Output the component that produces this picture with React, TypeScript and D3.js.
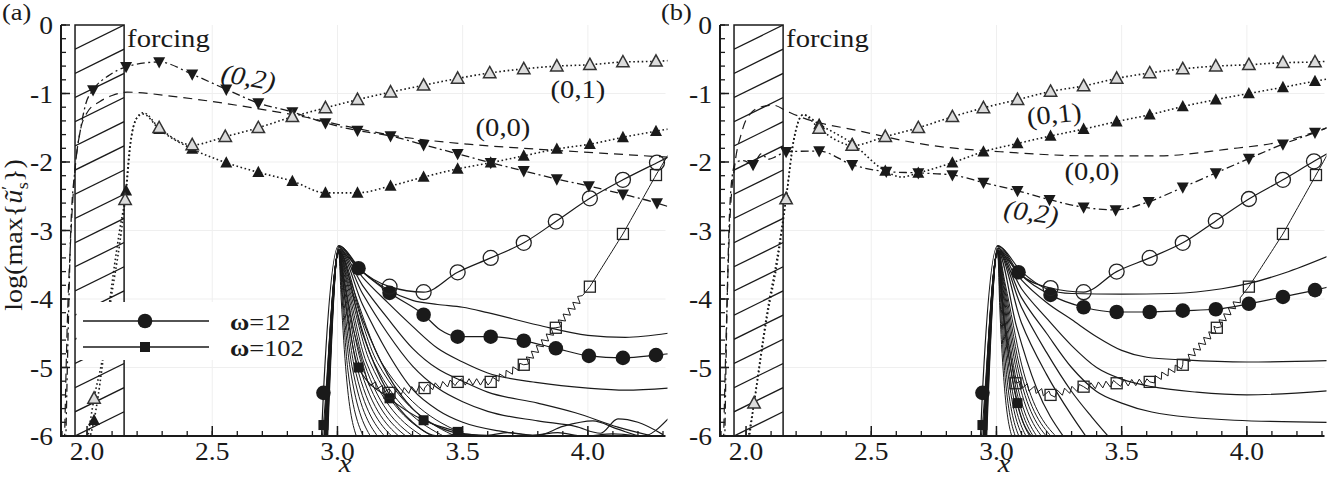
import * as d3 from 'd3';

type Pt = number[]; // [x, y] or [x, y, 1] when the point carries a marker

// ---------- panel (a) ----------
const aMode00: Pt[] = [[1.91,-6.1],[1.92,-4.5],[1.935,-3.1],[1.95,-2.2],[1.97,-1.6],[2.0,-1.28],[2.05,-1.12],[2.1,-1.03],[2.16,-0.98],[2.36,-1.05],[2.68,-1.22],[2.852,-1.33],[3.0,-1.45],[3.252,-1.63],[3.52,-1.74],[3.784,-1.81],[4.052,-1.87],[4.32,-1.93]];
const aMode01: Pt[] = [[2.0,-6.1],[2.028,-5.45,1],[2.06,-4.9],[2.1,-3.9],[2.13,-3.2],[2.152,-2.55,1],[2.17,-1.8],[2.2,-1.35],[2.224,-1.28],[2.288,-1.5,1],[2.42,-1.75,1],[2.552,-1.63,1],[2.684,-1.5,1],[2.82,-1.34,1],[2.952,-1.21,1],[3.08,-1.09,1],[3.212,-0.98,1],[3.344,-0.88,1],[3.48,-0.78,1],[3.608,-0.7,1],[3.744,-0.64,1],[3.876,-0.6,1],[4.008,-0.58,1],[4.14,-0.54,1],[4.272,-0.53,1],[4.32,-0.52]];
const aMode03: Pt[] = [[2.005,-6.1],[2.028,-5.77,1],[2.06,-5.0],[2.09,-4.05],[2.13,-3.0],[2.156,-2.42,1],[2.175,-1.7],[2.2,-1.35],[2.224,-1.3],[2.288,-1.52,1],[2.42,-1.81,1],[2.556,-2.01,1],[2.684,-2.15,1],[2.82,-2.28,1],[2.952,-2.45,1],[3.08,-2.45,1],[3.212,-2.35,1],[3.344,-2.22,1],[3.48,-2.1,1],[3.612,-2.01,1],[3.744,-1.91,1],[3.876,-1.81,1],[4.008,-1.74,1],[4.14,-1.64,1],[4.272,-1.55,1],[4.32,-1.52]];
const aMode02: Pt[] = [[1.915,-6.1],[1.925,-4.4],[1.935,-3.0],[1.952,-2.1],[1.975,-1.5],[1.995,-1.15],[2.024,-0.95,1],[2.09,-0.73],[2.156,-0.61,1],[2.288,-0.54,1],[2.42,-0.72,1],[2.556,-0.94,1],[2.684,-1.14,1],[2.82,-1.27,1],[2.952,-1.43,1],[3.08,-1.54,1],[3.212,-1.62,1],[3.344,-1.75,1],[3.48,-1.88,1],[3.612,-2.01,1],[3.744,-2.13,1],[3.876,-2.25,1],[4.004,-2.35,1],[4.14,-2.47,1],[4.276,-2.6,1],[4.32,-2.65]];

const aW12Lin: Pt[] = [[2.935,-6.1],[2.944,-5.37,1],[3.005,-3.22],[3.084,-3.55,1],[3.208,-3.91,1],[3.344,-4.23,1],[3.41,-4.45],[3.48,-4.55,1],[3.612,-4.55,1],[3.744,-4.61,1],[3.872,-4.72,1],[4.004,-4.83,1],[4.14,-4.86,1],[4.272,-4.82,1],[4.32,-4.8]];
const aW12Nl: Pt[] = [[3.005,-3.22],[3.084,-3.55],[3.208,-3.82,1],[3.344,-3.9,1],[3.48,-3.61,1],[3.612,-3.4,1],[3.744,-3.18,1],[3.872,-2.87,1],[4.008,-2.53,1],[4.14,-2.26,1],[4.276,-2.01,1],[4.32,-1.93]];
const aW102Lin: Pt[] = [[2.938,-6.1],[2.944,-5.84,1],[3.005,-3.3],[3.03,-4.0],[3.084,-5.0,1],[3.208,-5.45,1],[3.344,-5.77,1],[3.48,-5.94,1],[3.56,-6.05]];
const aW102Nl: Pt[] = [[3.005,-3.3],[3.06,-4.4],[3.12,-5.2],[3.208,-5.37,1],[3.348,-5.3,1],[3.48,-5.21,1],[3.612,-5.21,1],[3.744,-4.96,1],[3.872,-4.42,1],[4.008,-3.82,1],[4.14,-3.05,1],[4.272,-2.19,1],[4.32,-1.9]];

const aFan: Pt[][] = [
  [[2.96,-6.1],[3.005,-3.23],[3.1,-3.6],[3.2,-3.86],[3.3,-4.02],[3.4,-4.08],[3.5,-4.12],[3.6,-4.2],[3.8,-4.38],[4.0,-4.53],[4.15,-4.56],[4.32,-4.5]],
  [[2.958,-6.1],[3.005,-3.25],[3.1,-3.68],[3.2,-4.05],[3.3,-4.4],[3.4,-4.72],[3.5,-4.92],[3.6,-5.08],[3.8,-5.22],[4.0,-5.3],[4.15,-5.33],[4.32,-5.3]],
  [[2.956,-6.1],[3.005,-3.27],[3.1,-3.8],[3.2,-4.28],[3.3,-4.72],[3.4,-5.02],[3.5,-5.2],[3.6,-5.36],[3.8,-5.52],[3.95,-5.66],[4.12,-5.87],[4.28,-6.02]],
  [[2.954,-6.1],[3.005,-3.28],[3.1,-3.92],[3.2,-4.5],[3.3,-4.98],[3.4,-5.3],[3.5,-5.5],[3.6,-5.64],[3.8,-5.78],[3.95,-5.86],[4.05,-5.96],[4.12,-5.75],[4.2,-5.8],[4.3,-5.98]],
  [[2.952,-6.1],[3.005,-3.29],[3.1,-4.08],[3.2,-4.78],[3.3,-5.32],[3.4,-5.62],[3.5,-5.8],[3.65,-5.93],[3.8,-5.99],[3.9,-5.86],[4.02,-5.78],[4.12,-5.9],[4.22,-6.0],[4.32,-5.75]],
  [[2.95,-6.1],[3.005,-3.3],[3.1,-4.3],[3.2,-5.1],[3.3,-5.6],[3.4,-5.86],[3.5,-5.97],[3.6,-5.99],[3.68,-5.95],[3.78,-5.99],[3.88,-5.95],[3.98,-6.0],[4.1,-5.97],[4.2,-6.0]],
  [[2.95,-6.1],[3.005,-3.3],[3.1,-4.5],[3.2,-5.35],[3.3,-5.8],[3.4,-6.0],[3.5,-5.97],[3.6,-6.02]],
];
const aBundle: Pt[][] = [
  [[2.945,-6.1],[3.005,-3.32],[3.015,-4.0],[3.035,-5.1],[3.08,-6.05]],
  [[2.946,-6.1],[3.005,-3.32],[3.018,-3.97],[3.042,-5.05],[3.11,-6.05]],
  [[2.947,-6.1],[3.005,-3.31],[3.02,-3.94],[3.05,-5.0],[3.14,-6.05]],
  [[2.948,-6.1],[3.005,-3.31],[3.022,-3.91],[3.058,-4.98],[3.17,-6.05]],
  [[2.949,-6.1],[3.005,-3.31],[3.025,-3.88],[3.066,-4.96],[3.2,-6.05]],
  [[2.95,-6.1],[3.005,-3.3],[3.028,-3.85],[3.075,-4.95],[3.23,-6.05]],
  [[2.951,-6.1],[3.005,-3.3],[3.03,-3.83],[3.085,-4.94],[3.26,-6.05]],
  [[2.952,-6.1],[3.005,-3.3],[3.032,-3.81],[3.095,-4.93],[3.29,-6.05]],
  [[2.953,-6.1],[3.005,-3.3],[3.035,-3.79],[3.105,-4.92],[3.32,-6.05]],
  [[2.954,-6.1],[3.005,-3.29],[3.038,-3.77],[3.115,-4.92],[3.36,-6.05]],
  [[2.955,-6.1],[3.005,-3.29],[3.04,-3.75],[3.13,-4.92],[3.4,-6.05]],
  [[2.956,-6.1],[3.005,-3.29],[3.043,-3.74],[3.145,-4.92],[3.45,-6.05]],
  [[2.957,-6.1],[3.005,-3.29],[3.046,-3.73],[3.16,-4.93],[3.5,-6.05]],
  [[2.958,-6.1],[3.005,-3.28],[3.05,-3.72],[3.18,-4.95],[3.56,-6.05]],
];

// ---------- panel (b) ----------
const bMode00: Pt[] = [[1.91,-6.1],[1.92,-4.6],[1.935,-2.9],[1.956,-2.02],[1.98,-1.6],[2.004,-1.36],[2.056,-1.2],[2.108,-1.17],[2.164,-1.26],[2.216,-1.34],[2.456,-1.55],[2.724,-1.75],[3.016,-1.85],[3.376,-1.91],[3.644,-1.91],[3.908,-1.82],[4.176,-1.67],[4.32,-1.5]];
const bMode01: Pt[] = [[2.005,-6.1],[2.032,-5.52,1],[2.084,-4.26],[2.124,-3.48],[2.16,-2.54,1],[2.19,-1.7],[2.228,-1.31],[2.292,-1.51,1],[2.36,-1.68],[2.424,-1.76,1],[2.556,-1.63,1],[2.688,-1.5,1],[2.824,-1.34,1],[2.948,-1.21,1],[3.084,-1.09,1],[3.216,-0.97,1],[3.348,-0.89,1],[3.48,-0.78,1],[3.612,-0.7,1],[3.744,-0.64,1],[3.876,-0.6,1],[4.008,-0.58,1],[4.144,-0.55,1],[4.272,-0.54,1],[4.32,-0.53]];
const bMode03: Pt[] = [[2.01,-6.1],[2.032,-5.52,1],[2.084,-4.2],[2.124,-3.4],[2.16,-2.52,1],[2.19,-1.68],[2.228,-1.31],[2.292,-1.45,1],[2.424,-1.73,1],[2.556,-2.13,1],[2.62,-2.22],[2.688,-2.16,1],[2.824,-2.01,1],[2.948,-1.85,1],[3.084,-1.73,1],[3.216,-1.62,1],[3.348,-1.52,1],[3.48,-1.41,1],[3.612,-1.31,1],[3.744,-1.19,1],[3.876,-1.09,1],[4.008,-1.0,1],[4.144,-0.91,1],[4.272,-0.82,1],[4.32,-0.79]];
const bMode02: Pt[] = [[1.915,-6.1],[1.922,-4.5],[1.93,-3.2],[1.945,-2.2],[1.96,-2.0],[1.99,-1.98],[2.028,-2.04,1],[2.06,-1.88],[2.09,-1.96],[2.12,-1.92],[2.16,-1.85,1],[2.292,-1.84,1],[2.424,-2.04,1],[2.56,-2.14,1],[2.688,-2.16,1],[2.824,-2.19,1],[2.948,-2.3,1],[3.084,-2.42,1],[3.212,-2.55,1],[3.348,-2.66,1],[3.476,-2.7,1],[3.608,-2.58,1],[3.744,-2.37,1],[3.876,-2.16,1],[4.008,-1.95,1],[4.144,-1.74,1],[4.272,-1.57,1],[4.32,-1.5]];

const bW12Lin: Pt[] = [[2.935,-6.1],[2.944,-5.37,1],[3.005,-3.22],[3.088,-3.61,1],[3.216,-3.94,1],[3.348,-4.12,1],[3.48,-4.19,1],[3.612,-4.19,1],[3.744,-4.17,1],[3.876,-4.15,1],[4.008,-4.07,1],[4.144,-3.97,1],[4.272,-3.87,1],[4.32,-3.83]];
const bW12Nl: Pt[] = [[3.005,-3.22],[3.09,-3.62],[3.216,-3.84,1],[3.348,-3.9,1],[3.48,-3.6,1],[3.612,-3.4,1],[3.744,-3.18,1],[3.876,-2.86,1],[4.008,-2.54,1],[4.144,-2.26,1],[4.268,-1.99,1],[4.32,-1.88]];
const bW102Lin: Pt[] = [[2.938,-6.1],[2.944,-5.84,1],[3.005,-3.3],[3.03,-4.3],[3.084,-5.52,1],[3.15,-6.05]];
const bW102Nl: Pt[] = [[3.005,-3.3],[3.03,-4.3],[3.076,-5.23,1],[3.216,-5.4,1],[3.348,-5.28,1],[3.48,-5.23,1],[3.612,-5.21,1],[3.744,-4.96,1],[3.88,-4.42,1],[4.008,-3.82,1],[4.144,-3.05,1],[4.276,-2.19,1],[4.32,-1.9]];

const bFan: Pt[][] = [
  [[2.96,-6.1],[3.005,-3.23],[3.1,-3.6],[3.2,-3.85],[3.3,-3.92],[3.5,-3.93],[3.7,-3.92],[3.9,-3.85],[4.0,-3.78],[4.15,-3.62],[4.32,-3.38]],
  [[2.958,-6.1],[3.005,-3.26],[3.1,-3.72],[3.2,-4.05],[3.3,-4.3],[3.4,-4.55],[3.5,-4.75],[3.6,-4.85],[3.75,-4.89],[4.0,-4.92],[4.32,-4.9]],
  [[2.956,-6.1],[3.005,-3.28],[3.1,-3.85],[3.2,-4.28],[3.3,-4.68],[3.4,-5.0],[3.5,-5.17],[3.62,-5.28],[3.8,-5.36],[4.0,-5.4],[4.32,-5.34]],
  [[2.954,-6.1],[3.005,-3.29],[3.1,-3.98],[3.2,-4.5],[3.3,-5.0],[3.4,-5.35],[3.5,-5.52],[3.62,-5.65],[3.95,-5.77],[4.32,-5.8]],
  [[2.952,-6.1],[3.005,-3.3],[3.1,-4.12],[3.2,-4.78],[3.3,-5.35],[3.38,-5.72],[3.45,-6.02]],
  [[2.95,-6.1],[3.005,-3.3],[3.1,-4.35],[3.2,-5.1],[3.3,-5.7],[3.36,-6.02]],
  [[2.95,-6.1],[3.005,-3.3],[3.08,-4.4],[3.16,-5.3],[3.27,-6.02]],
];
const bBundle: Pt[][] = [
  [[2.945,-6.1],[3.005,-3.32],[3.013,-4.1],[3.03,-5.2],[3.065,-6.05]],
  [[2.946,-6.1],[3.005,-3.32],[3.015,-4.05],[3.035,-5.15],[3.08,-6.05]],
  [[2.947,-6.1],[3.005,-3.31],[3.017,-4.0],[3.04,-5.1],[3.095,-6.05]],
  [[2.948,-6.1],[3.005,-3.31],[3.019,-3.96],[3.045,-5.05],[3.11,-6.05]],
  [[2.949,-6.1],[3.005,-3.31],[3.021,-3.93],[3.05,-5.02],[3.125,-6.05]],
  [[2.95,-6.1],[3.005,-3.3],[3.023,-3.9],[3.056,-5.0],[3.14,-6.05]],
  [[2.951,-6.1],[3.005,-3.3],[3.025,-3.88],[3.062,-4.98],[3.155,-6.05]],
  [[2.952,-6.1],[3.005,-3.3],[3.027,-3.86],[3.068,-4.97],[3.17,-6.05]],
  [[2.953,-6.1],[3.005,-3.3],[3.029,-3.84],[3.075,-4.96],[3.19,-6.05]],
  [[2.954,-6.1],[3.005,-3.29],[3.031,-3.82],[3.082,-4.95],[3.21,-6.05]],
  [[2.955,-6.1],[3.005,-3.29],[3.033,-3.8],[3.09,-4.95],[3.23,-6.05]],
  [[2.956,-6.1],[3.005,-3.29],[3.035,-3.78],[3.1,-4.95],[3.25,-6.05]],
];

// axes and annotations
const yTickLabels = ['0', '-1', '-2', '-3', '-4', '-5', '-6'];
const yTickValues = [0, -1, -2, -3, -4, -5, -6];
const xTickLabels = ['2.0', '2.5', '3.0', '3.5', '4.0'];
const xTickValues = [2.0, 2.5, 3.0, 3.5, 4.0];
const FORCING = [1.952, 2.148];

const FONT = "'Liberation Serif', 'Times New Roman', Times, serif";
const INK = '#1a1a1a';

const x = d3.scaleLinear().domain([1.896, 4.31]).range([0, 604.5]);
const y = d3.scaleLinear().domain([0, -6]).range([25, 436]);

const line = d3.line<Pt>().x(d => x(d[0])).y(d => y(d[1])).curve(d3.curveMonotoneX);

// sawtooth drawn over a polyline, used for the ω=102 nonlinear run
function zigzag(pts: Pt[], from: number, to: number, amp = 3.2, step = 3.8) {
  const px = pts.map(p => [x(p[0]), y(p[1])]);
  const lo = x(from), hi = x(to);
  let out = `M${px[0][0]},${px[0][1]}`;
  let sign = 1;
  for (let i = 1; i < px.length; i++) {
    const [x0, y0] = px[i - 1], [x1, y1] = px[i];
    const L = Math.hypot(x1 - x0, y1 - y0);
    const ux = (x1 - x0) / L, uy = (y1 - y0) / L;
    for (let t = step; t < L; t += step) {
      const cx = x0 + ux * t, cy = y0 + uy * t;
      const on = cx > lo && cx < hi;
      const o = on ? amp * sign : 0;
      out += `L${cx - uy * o},${cy + ux * o}`;
      sign = -sign;
    }
    out += `L${x1},${y1}`;
  }
  return out;
}

type MarkerKind = 'triUpOpen' | 'triUp' | 'triDown' | 'circle' | 'circleOpen' | 'square' | 'squareOpen';

function Marker({ kind, cx, cy }: { kind: MarkerKind; cx: number; cy: number }) {
  const t = `translate(${cx},${cy})`;
  switch (kind) {
    case 'triUpOpen':
      return <path transform={t} d="M0,-6.5L6.2,4.8L-6.2,4.8Z" fill="#dcdcdc" stroke="#333" strokeWidth={1.5} />;
    case 'triUp':
      return <path transform={t} d="M0,-6.5L6,4.8L-6,4.8Z" fill={INK} />;
    case 'triDown':
      return <path transform={t} d="M0,6.5L6,-4.8L-6,-4.8Z" fill={INK} />;
    case 'circle':
      return <circle cx={cx} cy={cy} r={7.3} fill={INK} />;
    case 'circleOpen':
      return <circle cx={cx} cy={cy} r={7.5} fill="none" stroke="#222" strokeWidth={1.3} />;
    case 'square':
      return <rect x={cx - 5} y={cy - 5} width={10} height={10} fill={INK} />;
    case 'squareOpen':
      return <rect x={cx - 5.5} y={cy - 5.5} width={11} height={11} fill="none" stroke="#222" strokeWidth={1.3} />;
  }
  return null;
}

function Series({ data, dash, width = 1.2, marker, zig }: { data: Pt[]; dash?: string; width?: number; marker?: MarkerKind; zig?: [number, number] }) {
  const d = zig ? zigzag(data, zig[0], zig[1]) : (line(data) as string);
  return (
    <g>
      <path d={d} fill="none" stroke={INK} strokeWidth={width} strokeDasharray={dash} />
      {marker && data.filter(p => p[2] === 1).map((p, i) => (
        <Marker key={i} kind={marker} cx={x(p[0])} cy={y(p[1])} />
      ))}
    </g>
  );
}

function Txt({ x: tx, y: ty, size = 24, anchor = 'start', rotate = 0, italic = false, children }: any) {
  return (
    <text
      transform={`translate(${tx},${ty}) rotate(${rotate}) scale(1.1,1)`}
      fontFamily={FONT}
      fontSize={size}
      fontStyle={italic ? 'italic' : 'normal'}
      textAnchor={anchor}
      fill={INK}
    >
      {children}
    </text>
  );
}

type PanelProps = {
  ox: number;
  id: string;
  tag: string;
  mode00: Pt[]; mode01: Pt[]; mode02: Pt[]; mode03: Pt[];
  w12Lin: Pt[]; w12Nl: Pt[]; w102Lin: Pt[]; w102Nl: Pt[];
  fan: Pt[][]; bundle: Pt[][];
  zig: [number, number];
  labels: { text: string; x: number; y: number; rot: number; italic?: boolean }[];
  legend?: boolean;
};

function Panel(p: PanelProps) {
  const fx0 = x(FORCING[0]), fx1 = x(FORCING[1]);
  const top = y(0), bot = y(-6);
  const hatchStep = (bot - top) / 17;
  const hatch = d3.range(1, 19).map(k => top + k * hatchStep);
  const yMinor = d3.range(0, -6.001, -0.2);
  const xMinor = d3.range(1.9, 4.311, 0.1);
  const right = x.range()[1];
  return (
    <g transform={`translate(${p.ox},0)`}>
      <defs>
        <clipPath id={`plot-${p.id}`}>
          <rect x={0} y={top - 5} width={right + 2} height={bot - top + 5} />
        </clipPath>
        <clipPath id={`box-${p.id}`}>
          <rect x={fx0} y={top} width={fx1 - fx0} height={bot - top} />
        </clipPath>
      </defs>

      {/* faint grid */}
      <g stroke="#efefef" strokeWidth={1}>
        {xTickValues.slice(1).map(v => <line key={v} x1={x(v)} x2={x(v)} y1={top} y2={bot} />)}
        {yTickValues.slice(1, 6).map(v => <line key={v} x1={0} x2={right} y1={y(v)} y2={y(v)} />)}
      </g>

      {/* forcing strip */}
      <g clipPath={`url(#box-${p.id})`} stroke={INK} strokeWidth={1.3}>
        {hatch.map((h, i) => <line key={i} x1={fx0} y1={h} x2={fx1} y2={h - hatchStep} />)}
      </g>
      <rect x={fx0} y={top} width={fx1 - fx0} height={bot - top} fill="none" stroke={INK} strokeWidth={1.5} />

      <g clipPath={`url(#plot-${p.id})`}>
        {p.bundle.map((c, i) => <Series key={'b' + i} data={c} width={1.0} />)}
        {p.fan.map((c, i) => <Series key={'f' + i} data={c} width={1.2} />)}
        <Series data={p.w102Lin} width={1.1} marker="square" />
        <Series data={p.w12Lin} width={1.2} marker="circle" />
        <Series data={p.w12Nl} width={1.2} marker="circleOpen" />
        <Series data={p.w102Nl} width={1.0} marker="squareOpen" zig={p.zig} />
        <Series data={p.mode00} dash="9 6" width={1.2} />
        <Series data={p.mode02} dash="8 3.5 2 3.5" width={1.3} marker="triDown" />
        <Series data={p.mode03} dash="1.6 2.6" width={1.6} marker="triUp" />
        <Series data={p.mode01} dash="1.6 2.6" width={1.6} marker="triUpOpen" />
      </g>

      {p.legend && (
        <g>
          <rect x={fx0 + 1.5} y={302} width={140} height={58} fill="#fff" />
          <line x1={22} x2={148} y1={321} y2={321} stroke={INK} strokeWidth={1.3} />
          <circle cx={84} cy={321} r={7.3} fill={INK} />
          <line x1={22} x2={148} y1={347} y2={347} stroke={INK} strokeWidth={1.3} />
          <rect x={79} y={342} width={10} height={10} fill={INK} />
          <Txt x={169} y={330} size={24}><tspan fontWeight="bold">ω</tspan>=12</Txt>
          <Txt x={169} y={356} size={24}><tspan fontWeight="bold">ω</tspan>=102</Txt>
        </g>
      )}

      {/* axes */}
      <g stroke={INK}>
        <line x1={0} x2={0} y1={top} y2={bot + 1} strokeWidth={2} />
        <line x1={0} x2={right} y1={bot} y2={bot} strokeWidth={2} />
        {yMinor.map((v, i) => <line key={'ym' + i} x1={0} x2={5} y1={y(v)} y2={y(v)} strokeWidth={1.3} />)}
        {yTickValues.map(v => <line key={'yM' + v} x1={0} x2={9} y1={y(v)} y2={y(v)} strokeWidth={1.5} />)}
        {xMinor.map((v, i) => <line key={'xm' + i} x1={x(v)} x2={x(v)} y1={bot} y2={bot - 5} strokeWidth={1.3} />)}
        {xTickValues.map(v => <line key={'xM' + v} x1={x(v)} x2={x(v)} y1={bot} y2={bot - 10} strokeWidth={1.5} />)}
      </g>
      {yTickValues.map((v, i) => (
        <Txt key={'yl' + v} x={-8} y={y(v) + 9} size={25} anchor="end">{yTickLabels[i]}</Txt>
      ))}
      {xTickValues.map((v, i) => (
        <Txt key={'xl' + v} x={x(v)} y={460} size={25} anchor="middle">{xTickLabels[i]}</Txt>
      ))}
      <Txt x={x(3.03)} y={472} size={26} anchor="middle" italic>x</Txt>
      <Txt x={-59} y={20} size={24}>{p.tag}</Txt>
      <Txt x={fx1 + 3} y={47} size={26}>forcing</Txt>
      {p.labels.map((l, i) => (
        <Txt key={'lab' + i} x={l.x} y={l.y} size={26} anchor="middle" rotate={l.rot} italic={l.italic}>{l.text}</Txt>
      ))}
    </g>
  );
}

export default function App() {
  return (
    <svg width={1328} height={480} style={{ display: 'block', position: 'absolute', left: 0, top: 0, background: '#fff' }}>
      <rect width={1328} height={480} fill="#fff" />
      <Panel
        ox={61} id="a" tag="(a)"
        mode00={aMode00} mode01={aMode01} mode02={aMode02} mode03={aMode03}
        w12Lin={aW12Lin} w12Nl={aW12Nl} w102Lin={aW102Lin} w102Nl={aW102Nl}
        fan={aFan} bundle={aBundle} zig={[3.13, 3.97]} legend
        labels={[
          { text: '(0,2)', x: 247 - 61, y: 86, rot: 10, italic: true },
          { text: '(0,1)', x: 578 - 61, y: 98, rot: 0 },
          { text: '(0,0)', x: 503 - 61, y: 136, rot: 0 },
        ]}
      />
      <Panel
        ox={720} id="b" tag="(b)"
        mode00={bMode00} mode01={bMode01} mode02={bMode02} mode03={bMode03}
        w12Lin={bW12Lin} w12Nl={bW12Nl} w102Lin={bW102Lin} w102Nl={bW102Nl}
        fan={bFan} bundle={bBundle} zig={[3.08, 3.97]}
        labels={[
          { text: '(0,1)', x: 1055 - 720, y: 123, rot: -6 },
          { text: '(0,0)', x: 1092 - 720, y: 180, rot: 0 },
          { text: '(0,2)', x: 1030 - 720, y: 221, rot: 8, italic: true },
        ]}
      />
      {/* shared y-axis title */}
      <text
        transform="translate(22,235) rotate(-90) scale(1.08,1)"
        fontFamily={FONT} fontSize={26} textAnchor="middle" fill={INK}
      >
        log(max{'{'}<tspan fontStyle="italic">ũ</tspan><tspan fontSize={16} dy={-9}>′</tspan><tspan fontSize={17} dy={15} dx={-3}>s</tspan><tspan dy={-6}>{'})'}</tspan>
      </text>
    </svg>
  );
}
